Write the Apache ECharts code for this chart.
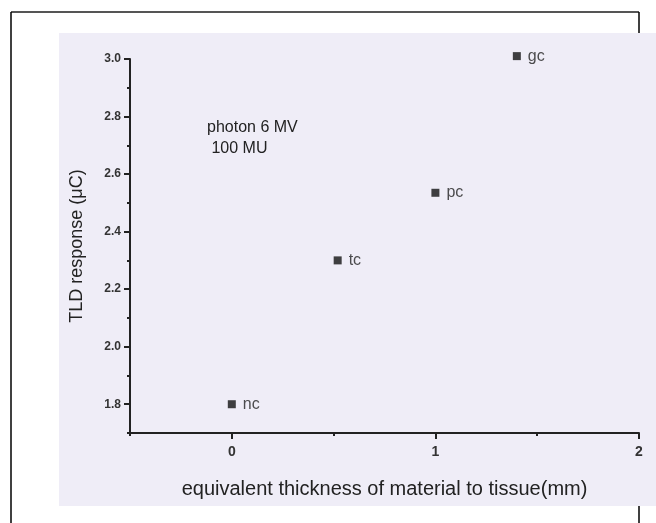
<!DOCTYPE html>
<html>
<head>
<meta charset="utf-8">
<script src="https://cdn.jsdelivr.net/npm/echarts@6/dist/echarts.min.js"></script>
<style>
html,body{margin:0;padding:0;background:#fff;}
#chart{width:656px;height:523px;}
</style>
</head>
<body>
<div id="chart"></div>
<script>
// ---- data ----
const pointNames = ['nc', 'tc', 'pc', 'gc'];
const thickness = [0, 0.52, 1.0, 1.40];          // equivalent thickness (mm)
const response = [1.80, 2.30, 2.535, 3.01];       // TLD response (µC)
const yMajorTicks = [1.8, 2.0, 2.2, 2.4, 2.6, 2.8, 3.0];
const yMinorTicks = [1.7, 1.9, 2.1, 2.3, 2.5, 2.7, 2.9];
const xMajorTicks = [0, 1, 2];
const xMinorTicks = [-0.5, 0.5, 1.5];
const annotation = ['photon 6 MV', ' 100 MU'];

const FONT = '"Liberation Sans", Arial, sans-serif';
const ink = '#222';

const chart = echarts.init(document.getElementById('chart'), null, {renderer: 'canvas'});

const data = thickness.map((x, i) => ({value: [x, response[i]], name: pointNames[i]}));

const lineOn = {show: true, onZero: false, lineStyle: {color: ink, width: 2}};

chart.setOption({
  backgroundColor: '#ffffff',
  animation: false,
  graphic: [
    {type: 'line', z: -20, shape: {x1: 11, y1: 12, x2: 639, y2: 12}, style: {stroke: '#555', lineWidth: 2}},
    {type: 'line', z: -20, shape: {x1: 11, y1: 12, x2: 11, y2: 523}, style: {stroke: '#000', lineWidth: 1.5}},
    {type: 'line', z: -20, shape: {x1: 639, y1: 12, x2: 639, y2: 523}, style: {stroke: '#000', lineWidth: 1.5}},
    {type: 'rect', z: -10, shape: {x: 59, y: 33, width: 600, height: 473}, style: {fill: '#efedf7'}},
    {type: 'text', z: 10, left: 207, top: 117, style: {text: annotation.join('\n'), font: '16px ' + FONT, fill: ink, lineHeight: 21}}
  ],
  grid: {left: 130, right: 17, top: 59, bottom: 90, containLabel: false},
  xAxis: [
    {
      type: 'value', min: -0.5, max: 2,
      axisLine: lineOn, splitLine: {show: false},
      name: 'equivalent thickness of material to tissue(mm)',
      nameLocation: 'middle', nameGap: 46,
      nameTextStyle: {fontFamily: FONT, fontSize: 20, color: ink},
      axisTick: {show: true, customValues: xMajorTicks, length: 6, lineStyle: {color: ink, width: 2}},
      axisLabel: {show: true, customValues: xMajorTicks, margin: 12, fontFamily: FONT, fontSize: 14, fontWeight: 'bold', color: '#333'}
    },
    {
      type: 'value', min: -0.5, max: 2, position: 'bottom',
      axisLine: {show: false, onZero: false}, splitLine: {show: false},
      axisTick: {show: true, customValues: xMinorTicks, length: 3, lineStyle: {color: ink, width: 2}},
      axisLabel: {show: false}
    }
  ],
  yAxis: [
    {
      type: 'value', min: 1.7, max: 3.0,
      axisLine: lineOn, splitLine: {show: false},
      name: 'TLD response (\u03bcC)',
      nameLocation: 'middle', nameGap: 44,
      nameTextStyle: {fontFamily: FONT, fontSize: 18, color: ink},
      axisTick: {show: true, customValues: yMajorTicks, length: 6, lineStyle: {color: ink, width: 2}},
      axisLabel: {show: true, customValues: yMajorTicks, margin: 9, fontFamily: FONT, fontSize: 12, fontWeight: 'bold', color: '#333',
        formatter: v => v.toFixed(1)}
    },
    {
      type: 'value', min: 1.7, max: 3.0, position: 'left',
      axisLine: {show: false, onZero: false}, splitLine: {show: false},
      axisTick: {show: true, customValues: yMinorTicks, length: 3, lineStyle: {color: ink, width: 2}},
      axisLabel: {show: false}
    }
  ],
  series: [{
    type: 'scatter',
    xAxisIndex: 0, yAxisIndex: 0,
    clip: false,
    symbol: 'rect',
    symbolSize: 8,
    itemStyle: {color: '#111'},
    label: {
      show: true, position: 'right', distance: 7,
      formatter: p => p.name,
      fontFamily: FONT, fontSize: 16, color: ink
    },
    data: data
  }]
});
</script>
</body>
</html>
